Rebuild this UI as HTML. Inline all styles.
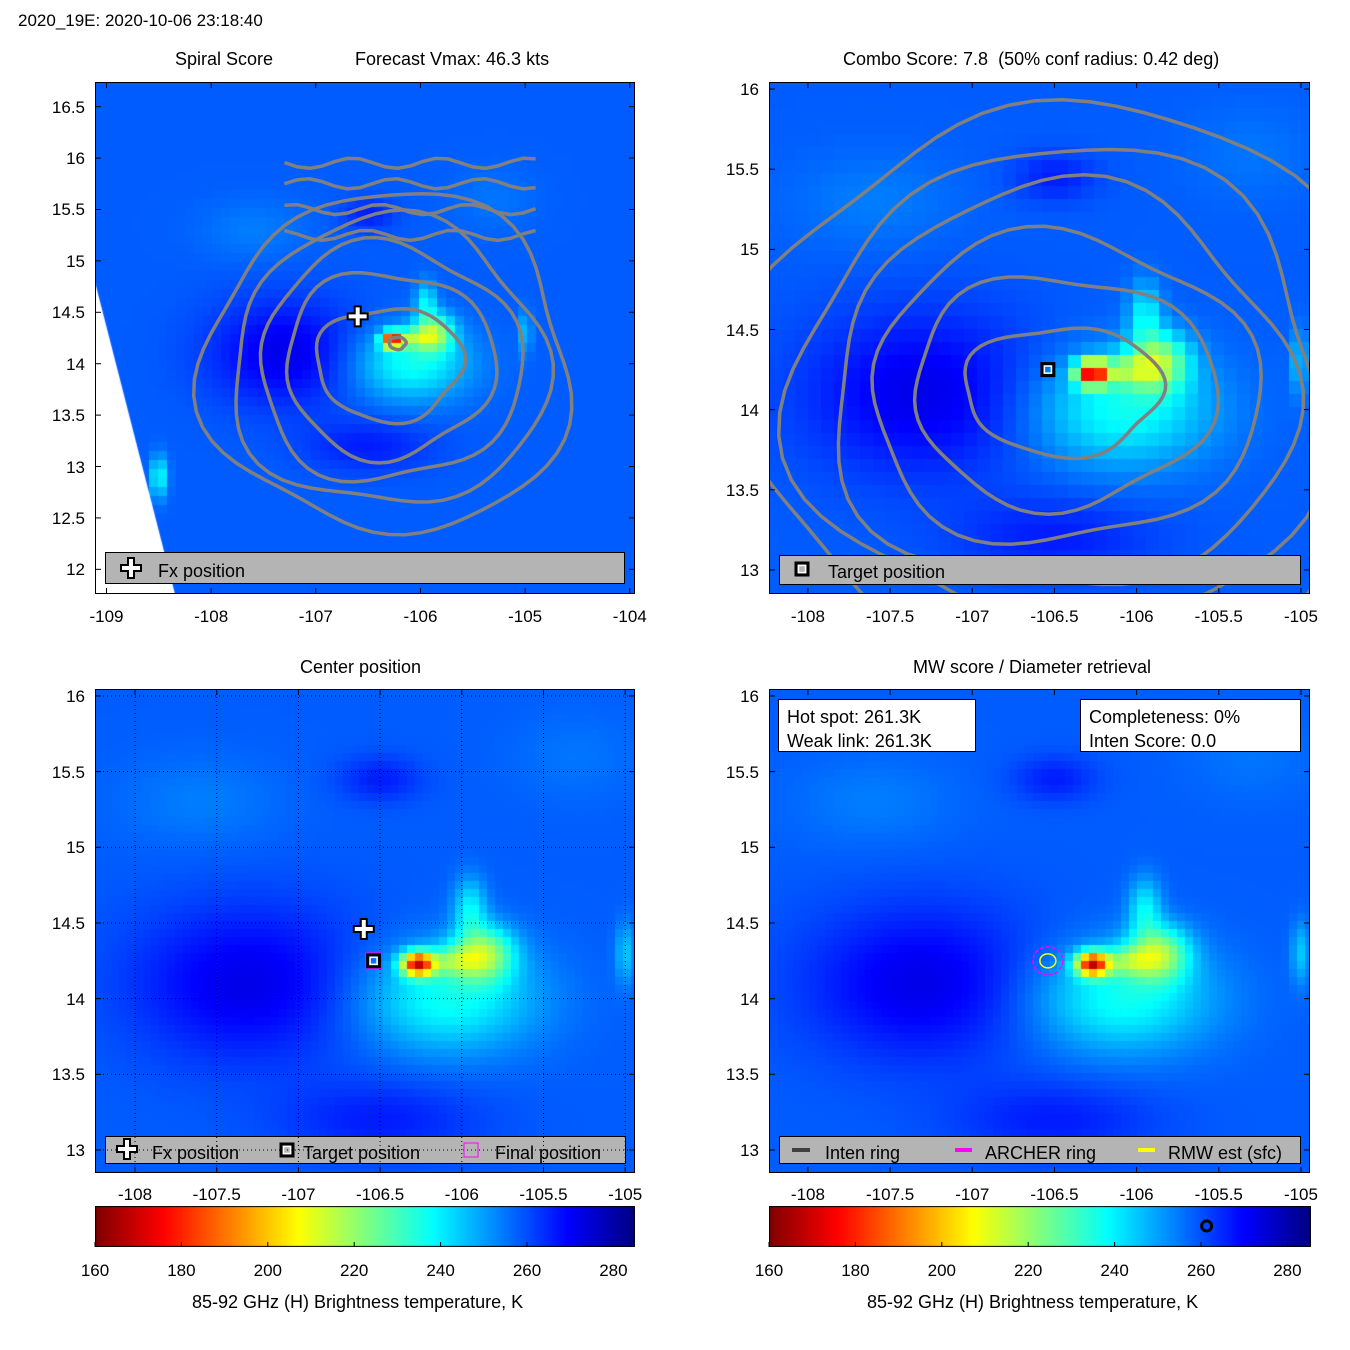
<!DOCTYPE html>
<html><head><meta charset="utf-8">
<style>
body{margin:0;background:#fff;}
#root{position:relative;width:1350px;height:1350px;background:#fff;font-family:"Liberation Sans",sans-serif;color:#000;overflow:hidden;}
.t{position:absolute;font-size:18px;white-space:nowrap;}
.tk{position:absolute;font-size:17px;white-space:nowrap;}
canvas{position:absolute;}
svg{position:absolute;left:0;top:0;}
.box{position:absolute;border:1px solid #000;}
</style></head>
<body>
<div id="root">
<div class="t" style="left:18px;top:11px;font-size:17px">2020_19E: 2020-10-06 23:18:40</div>
<div class="t" style="left:175px;top:49px">Spiral Score</div>
<div class="t" style="left:355px;top:49px">Forecast Vmax: 46.3 kts</div>
<div class="t" style="left:843px;top:49px">Combo Score: 7.8&nbsp; (50% conf radius: 0.42 deg)</div>
<div class="t" style="left:300px;top:657px">Center position</div>
<div class="t" style="left:913px;top:657px">MW score / Diameter retrieval</div>
<div class="t" style="left:192px;top:1292px">85-92 GHz (H) Brightness temperature, K</div>
<div class="t" style="left:867px;top:1292px">85-92 GHz (H) Brightness temperature, K</div>
<canvas id="c1" width="540" height="512" style="left:95px;top:82px"></canvas>
<canvas id="c2" width="541" height="512" style="left:769px;top:82px"></canvas>
<canvas id="c3" width="540" height="484" style="left:95px;top:689px"></canvas>
<canvas id="c4" width="541" height="484" style="left:769px;top:689px"></canvas>
<canvas id="cb1" width="540" height="41" style="left:95px;top:1206px"></canvas>
<canvas id="cb2" width="542" height="41" style="left:769px;top:1206px"></canvas>
<svg id="ov" width="1350" height="1350"></svg>
<div id="tk"></div>
<div class="box" style="left:105px;top:552px;width:518px;height:30px;background:#b4b4b4"><span class="t" style="left:52px;top:8px">Fx position</span></div>
<div class="box" style="left:779px;top:555px;width:520px;height:28px;background:#b4b4b4"><span class="t" style="left:48px;top:6px">Target position</span></div>
<div class="box" style="left:105px;top:1136px;width:519px;height:26px;background:#b4b4b4"><span class="t" style="left:46px;top:6px">Fx position</span><span class="t" style="left:197px;top:6px">Target position</span><span class="t" style="left:389px;top:6px">Final position</span></div>
<div class="box" style="left:779px;top:1136px;width:520px;height:26px;background:#b4b4b4"><span class="t" style="left:45px;top:6px">Inten ring</span><span class="t" style="left:205px;top:6px">ARCHER ring</span><span class="t" style="left:388px;top:6px">RMW est (sfc)</span></div>
<div class="box" style="left:778px;top:699px;width:196px;height:51px;background:#fff"><span class="t" style="left:8px;top:7px">Hot spot: 261.3K</span><span class="t" style="left:8px;top:31px">Weak link: 261.3K</span></div>
<div class="box" style="left:1080px;top:699px;width:219px;height:51px;background:#fff"><span class="t" style="left:8px;top:7px">Completeness: 0%</span><span class="t" style="left:8px;top:31px">Inten Score: 0.0</span></div>
<svg id="ov2" width="1350" height="1350"></svg>
</div>
<script>
// ---- data ----
const baseTemp = 258;
const blobLon = [-106.27,-105.86,-106.1,-105.95,-107.3,-106.5,-106.5,-105.0,-108.5,-107.6,-105.3,-106.05];
const blobLat = [14.23,14.30,14.0,14.6,14.1,13.2,15.45,14.3,12.9,15.3,15.6,14.25];
const blobTemp = [182,224,236,240,272,266,266,245,236,254,255,238];
const blobRx = [0.1,0.18,0.55,0.1,0.7,0.6,0.25,0.06,0.08,0.5,0.4,0.15];
const blobRy = [0.08,0.18,0.35,0.2,0.5,0.25,0.15,0.2,0.2,0.3,0.3,0.1];
const cbTicks = [160,180,200,220,240,260,280];
const p1Lon=[-109,-108,-107,-106,-105,-104], p1Lat=[16.5,16,15.5,15,14.5,14,13.5,13,12.5,12];
const pLon=[-108,-107.5,-107,-106.5,-106,-105.5,-105], pLat=[16,15.5,15,14.5,14,13.5,13];
const c1Rx=[0.7,1.0,1.25,1.5,1.75], c1Ry=[0.55,0.9,1.15,1.4,1.65];
const c2Rx=[0.6,0.92,1.18,1.4,1.62,1.9], c2Ry=[0.4,0.72,0.96,1.26,1.5,1.8];
const openLat=[15.75,15.5,15.25,15.95];
const fxPos=[-106.6,14.46], targetPos=[-106.54,14.25];

const panels=[
 {id:'c1',x:95,y:82,w:540,h:512,lon0:-109.11,lon1:-103.95,lat0:16.74,lat1:11.76,cell:9,xt:p1Lon,yt:p1Lat},
 {id:'c2',x:769,y:82,w:541,h:512,lon0:-108.237,lon1:-104.945,lat0:16.044,lat1:12.85,cell:13,xt:pLon,yt:pLat},
 {id:'c3',x:95,y:689,w:540,h:484,lon0:-108.245,lon1:-104.94,lat0:16.046,lat1:12.848,cell:8,xt:pLon,yt:pLat},
 {id:'c4',x:769,y:689,w:541,h:484,lon0:-108.237,lon1:-104.945,lat0:16.046,lat1:12.848,cell:8,xt:pLon,yt:pLat}];
function sx(p,lon){return p.x+(lon-p.lon0)/(p.lon1-p.lon0)*p.w;}
function sy(p,lat){return p.y+(lat-p.lat0)/(p.lat1-p.lat0)*p.h;}
function field(lon,lat){let t=baseTemp;for(let i=0;i<blobLon.length;i++){const dx=(lon-blobLon[i])/blobRx[i],dy=(lat-blobLat[i])/blobRy[i];t+=(blobTemp[i]-baseTemp)*Math.exp(-(dx*dx+dy*dy));}return Math.max(160,Math.min(285,t));}
function jet(v){v=Math.max(0,Math.min(1,v));const r=Math.max(0,Math.min(1,1.5-Math.abs(4*v-3))),g=Math.max(0,Math.min(1,1.5-Math.abs(4*v-2))),b=Math.max(0,Math.min(1,1.5-Math.abs(4*v-1)));return `rgb(${r*255|0},${g*255|0},${b*255|0})`;}
function col(t){return jet(1-(t-160)/125);}
panels.forEach((p,k)=>{const ctx=document.getElementById(p.id).getContext('2d');
 for(let py=0;py<p.h;py+=p.cell)for(let px=0;px<p.w;px+=p.cell){
  const lon=p.lon0+(px+p.cell/2)/p.w*(p.lon1-p.lon0),lat=p.lat0+(py+p.cell/2)/p.h*(p.lat1-p.lat0);
  ctx.fillStyle=col(field(lon,lat));ctx.fillRect(px,py,p.cell,p.cell);}
 if(k===0){ctx.fillStyle='#fff';ctx.beginPath();ctx.moveTo(0,200);ctx.lineTo(80,512);ctx.lineTo(0,512);ctx.fill();}
});
['cb1','cb2'].forEach(id=>{const c=document.getElementById(id),ctx=c.getContext('2d');for(let i=0;i<c.width;i++){ctx.fillStyle=col(160+i/c.width*125);ctx.fillRect(i,0,1,41);}ctx.strokeStyle='#000';ctx.strokeRect(0.5,0.5,c.width-1,40);});
const NS='http://www.w3.org/2000/svg';
const ov=document.getElementById('ov'),ov2=document.getElementById('ov2'),tk=document.getElementById('tk');
function el(par,tag,a){const e=document.createElementNS(NS,tag);for(const k in a)e.setAttribute(k,a[k]);par.appendChild(e);return e;}
function wob(p,clon,clat,rx,ry,i){let d='';for(let a=0;a<=72;a++){const th=a/72*2*Math.PI;const f=1+0.05*Math.sin(3*th+i)+0.04*Math.cos(5*th+2*i);d+=(a?'L':'M')+sx(p,clon+rx*f*Math.cos(th)).toFixed(1)+','+sy(p,clat+ry*f*Math.sin(th)).toFixed(1);}return d+'Z';}
panels.forEach((p,k)=>{const cp=el(ov,'clipPath',{id:'cl'+k});el(cp,'rect',{x:p.x,y:p.y,width:p.w,height:p.h});});
const g1=el(ov,'g',{'clip-path':'url(#cl0)',fill:'none',stroke:'#808080','stroke-width':3.5});


c1Rx.forEach((r,i)=>{const pth=el(g1,'path',{d:wob(panels[0],-106.3,14.0,r,c1Ry[i],i)});});
openLat.forEach((lat,i)=>{let d='';for(let j=0;j<=20;j++){const lon=-107.3+j*0.12;d+=(j?'L':'M')+sx(panels[0],lon).toFixed(1)+','+sy(panels[0],lat+0.05*Math.sin(j*0.9+i)).toFixed(1);}const pth=el(g1,'path',{d});});
el(g1,'path',{d:wob(panels[0],-106.22,14.2,0.08,0.06,0)});
const g2=el(ov,'g',{'clip-path':'url(#cl1)',fill:'none',stroke:'#808080','stroke-width':3.5});


c2Rx.forEach((r,i)=>{const pth=el(g2,'path',{d:wob(panels[1],-106.45,14.12,r,c2Ry[i],i)});});
panels.forEach((p,k)=>{
 const fr=el(ov2,'rect',{x:p.x+0.5,y:p.y+0.5,width:p.w-1,height:p.h-1,fill:'none',stroke:'#000'});
 
 p.xt.forEach(v=>{const x=sx(p,v);el(ov2,'line',{x1:x,x2:x,y1:p.y+p.h,y2:p.y+p.h-6,stroke:'#000'});el(ov2,'line',{x1:x,x2:x,y1:p.y,y2:p.y+6,stroke:'#000'});
  if(k===2)el(ov2,'line',{x1:x,x2:x,y1:p.y,y2:p.y+p.h,stroke:'#000','stroke-dasharray':'1,3'});
  const d=document.createElement('div');d.className='tk';d.textContent=v;d.style.left=(x-30)+'px';d.style.width='60px';d.style.textAlign='center';d.style.top=(p.y+p.h+(k<2?13:12))+'px';
  tk.appendChild(d);});
 p.yt.forEach(v=>{const y=sy(p,v);el(ov2,'line',{x1:p.x,x2:p.x+6,y1:y,y2:y,stroke:'#000'});el(ov2,'line',{x1:p.x+p.w,x2:p.x+p.w-6,y1:y,y2:y,stroke:'#000'});
  if(k===2)el(ov2,'line',{x1:p.x,x2:p.x+p.w,y1:y,y2:y,stroke:'#000','stroke-dasharray':'1,3'});
  const d=document.createElement('div');d.className='tk';d.textContent=v;d.style.left=(p.x-65)+'px';d.style.width='55px';d.style.textAlign='right';d.style.top=(y-9)+'px';
  tk.appendChild(d);});
});
[95,769].forEach(x0=>{cbTicks.forEach(v=>{const x=x0+(v-160)/125*540;el(ov2,'line',{x1:x,x2:x,y1:1247,y2:1242,stroke:'#000'});const d=document.createElement('div');d.className='tk';d.textContent=v;d.style.left=(x-30)+'px';d.style.width='60px';d.style.textAlign='center';d.style.top='1261px';
 tk.appendChild(d);});});
function cross(x,y,name){const d=`M${x-3},${y-10}h6v7h7v6h-7v7h-6v-7h-7v-6h7z`;const e=el(ov2,'path',{d,fill:'#fff',stroke:'#000','stroke-width':2});}
function sq(x,y,name){const e=el(ov2,'rect',{x:x-6,y:y-6,width:12,height:12,fill:'none',stroke:'#000','stroke-width':3});el(ov2,'rect',{x:x-3.5,y:y-3.5,width:7,height:7,fill:'none',stroke:'#fff','stroke-width':1.5});}
cross(sx(panels[0],fxPos[0]),sy(panels[0],fxPos[1]),'fx-position-marker');
sq(sx(panels[1],targetPos[0]),sy(panels[1],targetPos[1]),'target-position-marker');
cross(sx(panels[2],fxPos[0]),sy(panels[2],fxPos[1]),'fx-position-marker');
sq(sx(panels[2],targetPos[0]),sy(panels[2],targetPos[1]),'target-position-marker');
let e=el(ov2,'rect',{x:sx(panels[2],targetPos[0])-8,y:sy(panels[2],targetPos[1])-8,width:16,height:16,fill:'none',stroke:'#ff00ff','stroke-width':1});
const ax=sx(panels[3],targetPos[0]),ay=sy(panels[3],targetPos[1]);
e=el(ov2,'ellipse',{cx:ax,cy:ay,rx:15,ry:14,fill:'none',stroke:'#ff00ff','stroke-width':1.5,'stroke-dasharray':'4,2'});
e=el(ov2,'ellipse',{cx:ax,cy:ay,rx:8,ry:7,fill:'none',stroke:'#ffff00','stroke-width':1.5});
e=el(ov2,'circle',{cx:769+(261.3-160)/125*540,cy:1226,r:5,fill:'none',stroke:'#000','stroke-width':3});
cross(131,568,'legend-fx-icon');sq(802,569,'legend-target-icon');cross(127,1149,'legend-fx-icon');sq(287,1150,'legend-target-icon');
el(ov2,'rect',{x:464,y:1143,width:14,height:14,fill:'none',stroke:'#ff00ff'});
el(ov2,'line',{x1:792,x2:810,y1:1150,y2:1150,stroke:'#404040','stroke-width':4});
el(ov2,'line',{x1:955,x2:972,y1:1150,y2:1150,stroke:'#ff00ff','stroke-width':4});
el(ov2,'line',{x1:1138,x2:1155,y1:1150,y2:1150,stroke:'#ffff00','stroke-width':4});
</script>
</body></html>
